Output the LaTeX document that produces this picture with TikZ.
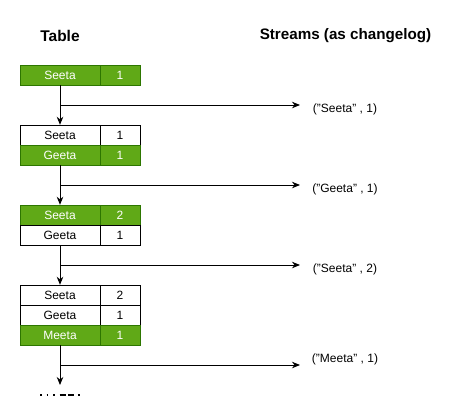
\documentclass[tikz,border=0pt]{standalone}
\usepackage{fontspec}
\setmainfont{Liberation Sans}
\usetikzlibrary{arrows.meta}
\definecolor{gfill}{HTML}{60A917}
\definecolor{gline}{HTML}{2D7600}
\begin{document}
\begin{tikzpicture}[x=1pt,y=-1pt,
  cellfont/.style={font=\fontsize{12}{14}\selectfont},
  namecell/.style={draw=black, fill=white, minimum width=80pt, minimum height=20pt, inner sep=0pt, cellfont},
  valcell/.style={draw=black, fill=white, minimum width=40pt, minimum height=20pt, inner sep=0pt, cellfont},
  hot/.style={fill=gfill, draw=gline, text=white},
  arr/.style={line width=0.9pt, -{Stealth[length=8pt,width=6.5pt,inset=2.5pt]}},
  lbl/.style={font=\fontsize{12}{14}\selectfont, inner sep=0pt},
  head/.style={font=\bfseries\fontsize{15.5}{18}\selectfont, inner sep=0pt},
  dotline/.style={line width=1.6pt}
]
\useasboundingbox (0,0) rectangle (461,418);
\node[head] (ht) at (60,36) {Table};
\node[head, font=\bfseries\fontsize{15.2}{18}\selectfont] (hs) at (345.5,36) {Streams (as changelog)};
% table 1
\node[namecell,hot] (a1) at (60,75) {Seeta};
\node[valcell,hot] (v1) at (120,75) {1};
% table 2
\node[namecell] (a2) at (60,135) {Seeta};
\node[valcell] (v2) at (120,135) {1};
\node[namecell,hot] (b2) at (60,155) {Geeta};
\node[valcell,hot] (w2) at (120,155) {1};
% table 3
\node[namecell,hot] (a3) at (60,215) {Seeta};
\node[valcell,hot] (v3) at (120,215) {2};
\node[namecell] (b3) at (60,235) {Geeta};
\node[valcell] (w3) at (120,235) {1};
% table 4
\node[namecell] (a4) at (60,295) {Seeta};
\node[valcell] (v4) at (120,295) {2};
\node[namecell] (b4) at (60,315) {Geeta};
\node[valcell] (w4) at (120,315) {1};
\node[namecell,hot] (c4) at (60,335) {Meeta};
\node[valcell,hot] (x4) at (120,335) {1};
% vertical connectors
\coordinate (endv) at (60,385);
\draw[arr] (a1.south) -- (a2.north);
\draw[arr] (b2.south) -- (a3.north);
\draw[arr] (b3.south) -- (a4.north);
\draw[arr] (c4.south) -- (endv);
% stream labels
\node[lbl] (l1) at (345,109) {("Seeta" , 1)};
\node[lbl] (l2) at (345,189) {("Geeta" , 1)};
\node[lbl] (l3) at (345,269) {("Seeta" , 2)};
\node[lbl] (l4) at (345,359) {("Meeta" , 1)};
% branches
\coordinate (s1) at (60,105); \coordinate (e1) at (300,105);
\coordinate (s2) at (60,185); \coordinate (e2) at (300,185);
\coordinate (s3) at (60,265); \coordinate (e3) at (300,265);
\coordinate (s4) at (60,365); \coordinate (e4) at (300,365);
\draw[arr] (s1) -- (e1);
\draw[arr] (s2) -- (e2);
\draw[arr] (s3) -- (e3);
\draw[arr] (s4) -- (e4);
% continuation dots
\coordinate (d1) at (40,395);
\draw[dotline] (d1) -- ++(1.8,0) ++(4.7,0) -- ++(1.8,0) ++(4.7,0) -- ++(1.8,0)
  ++(4.7,0) -- ++(6,0) ++(2.5,0) -- ++(6,0) ++(3.8,0) -- ++(1.8,0);
\end{tikzpicture}
\end{document}
